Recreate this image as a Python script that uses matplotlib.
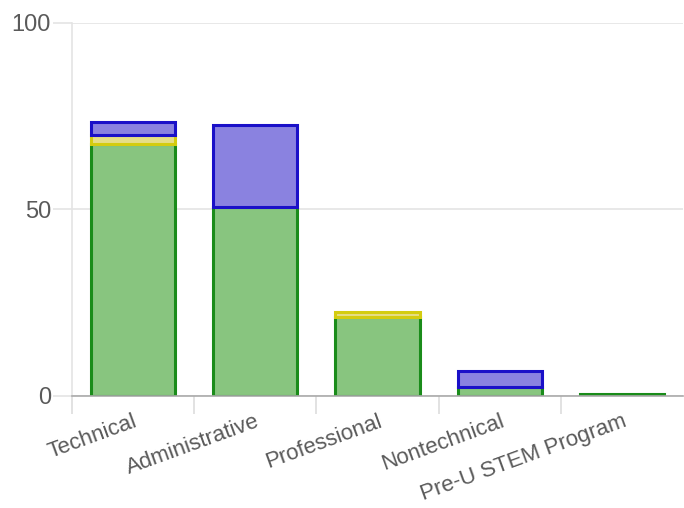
import matplotlib.pyplot as plt
import numpy as np

categories = ["Technical", "Administrative", "Professional", "Nontechnical", "Pre-U STEM Program"]
green_vals = [67.5, 50.5, 21.2, 2.5, 0.5]
yellow_vals = [2.5, 0, 1.2, 0, 0]
blue_vals = [3.5, 22, 0, 4.2, 0]

plt.rcParams['font.family'] = ['Liberation Sans', 'DejaVu Sans']

fig = plt.figure(figsize=(6.84, 5.08), dpi=100)
ax = fig.add_axes([0.105, 0.2205, 0.894, 0.735])

x = np.arange(len(categories))
w = 0.69
g = np.array(green_vals)
yv = np.array(yellow_vals)
b = np.array(blue_vals)

ax.bar(x, g, w, color='#88c57f', edgecolor='#1a8c1a', linewidth=2.2, zorder=3)
mask = yv > 0
ax.bar(x[mask], yv[mask], w, bottom=g[mask], color='#e6de88', edgecolor='#d4cc10',
       linewidth=2.2, zorder=3)
mask = b > 0
ax.bar(x[mask], b[mask], w, bottom=(g + yv)[mask], color='#8a82e0', edgecolor='#1a10c8',
       linewidth=2.2, zorder=3)

ax.set_xlim(-0.5, 4.5)
ax.set_ylim(0, 100)
ax.set_yticks([0, 50, 100])
ax.grid(axis='y', color='#e4e4e4', linewidth=1.2, zorder=0)

for s in ['top', 'right']:
    ax.spines[s].set_visible(False)
ax.spines['left'].set_color('#e4e4e4')
ax.spines['left'].set_linewidth(1.2)
ax.spines['bottom'].set_color('#aaaaaa')
ax.spines['bottom'].set_linewidth(1.2)
ax.spines['bottom'].set_zorder(4)

ax.tick_params(axis='y', length=14, color='#e4e4e4', width=1.2, pad=1,
               labelsize=17, labelcolor='#5a5a5a')
ax.set_xticks(x)
ax.set_xticklabels(categories, rotation=20, ha='right', va='top',
                   rotation_mode='anchor', fontsize=16, color='#5a5a5a')
ax.tick_params(axis='x', length=0, pad=11)
ax.set_xticks(np.arange(-0.5, 4.0, 1.0), minor=True)
ax.tick_params(axis='x', which='minor', length=13, color='#dddddd', width=1.2)

fig.savefig('out.png', dpi=100)
